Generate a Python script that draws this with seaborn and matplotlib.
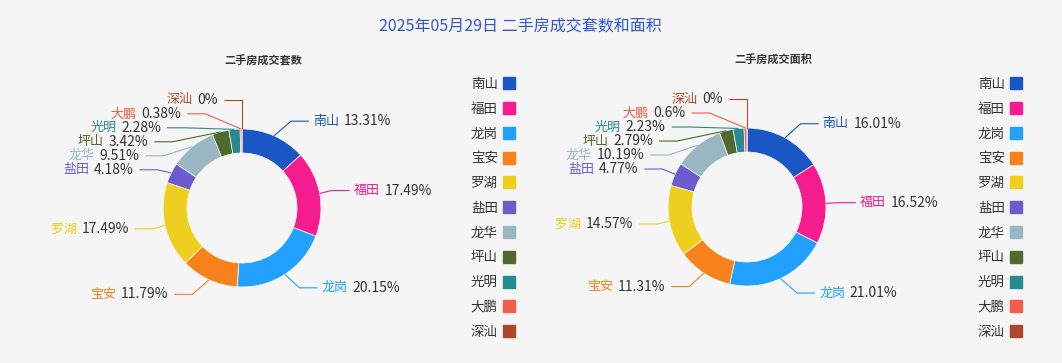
import matplotlib
matplotlib.use('Agg')
import matplotlib.pyplot as plt
from matplotlib.lines import Line2D
import numpy as np
import seaborn as sns

# figure size in pixels
W, H = 1062, 363
BG = '#f5f5f5'

# data
districts = ['南山', '福田', '龙岗', '宝安', '罗湖', '盐田', '龙华', '坪山', '光明', '大鹏', '深汕']
count_share = [13.31, 17.49, 20.15, 11.79, 17.49, 4.18, 9.51, 3.42, 2.28, 0.38, 0]
area_share = [16.01, 16.52, 21.01, 11.31, 14.57, 4.77, 10.19, 2.79, 2.23, 0.6, 0]
district_colors = ['#1a56c4', '#f41c8e', '#22a0fd', '#f7821b', '#eece1f', '#6c5bcc',
                   '#98b7c2', '#4f6a2d', '#278a8f', '#f45c4b', '#b04629']
title = '2025年05月29日 二手房成交套数和面积'
subtitles = ['二手房成交套数', '二手房成交面积']

sns.set_theme(style='white', rc={'figure.facecolor': BG, 'axes.facecolor': BG})
plt.rcParams['font.family'] = ['Noto Sans CJK SC', 'DejaVu Sans']
palette = sns.color_palette(district_colors)

fig = plt.figure(figsize=(W / 100, H / 100), dpi=100)
ax = fig.add_axes([0, 0, 1, 1])


def spread(ys, gap=14, balance=0.6):
    # push overlapping labels down, then pull each pushed group back up a bit
    ys = np.asarray(ys, float)
    out = ys.copy()
    groups = []
    prev = None
    for i in np.argsort(ys, kind='stable'):
        if prev is not None and out[i] < out[prev] + gap:
            out[i] = out[prev] + gap
            groups[-1].append(i)
        else:
            groups.append([i])
        prev = i
    for g in groups:
        if len(g) > 1:
            shift = np.mean(out[g] - ys[g])
            out[g] -= balance * shift
    return out


def draw_donut(values, cx, cy, r_out=79, ring=24, ry=95, ea=91, eb=103, len2=18):
    ax.pie(values, colors=palette, startangle=90, counterclock=False,
           radius=r_out, center=(cx, H - cy),
           wedgeprops=dict(width=ring, edgecolor='white', linewidth=0.5))

    vals = np.asarray(values, float)
    mid = (np.cumsum(vals) - vals / 2) / vals.sum()
    theta = 2 * np.pi * mid
    right = mid < 0.5
    ys = cy - ry * np.cos(theta)
    for side in (right, ~right):
        idx = np.where(side)[0]
        ys[idx] = spread(ys[idx])

    for i, name in enumerate(districts):
        c = palette[i]
        ax_ = cx + r_out * np.sin(theta[i])
        ay_ = cy - r_out * np.cos(theta[i])
        y = ys[i]
        # elbow sits on an ellipse round the donut
        dx = ea * np.sqrt(max(1 - ((y - cy) / eb) ** 2, 0))
        sgn = 1 if right[i] else -1
        ex = cx + sgn * dx
        end = ex + sgn * len2
        ax.plot([ax_, ex, end], [H - ay_, H - y, H - y], color=c, lw=0.8,
                solid_capstyle='butt')
        pct = f'{values[i]:g}%'
        if right[i]:
            t = ax.text(end + 4, H - y, name, color=c, fontsize=9.4,
                        ha='left', va='center')
            ax.annotate(pct, xy=(1, 0.5), xycoords=t, xytext=(3.5, 0),
                        textcoords='offset points', color='#333333',
                        fontsize=10, ha='left', va='center')
        else:
            t = ax.text(end - 6, H - y, pct, color='#333333', fontsize=10,
                        ha='right', va='center')
            ax.annotate(name, xy=(0, 0.5), xycoords=t, xytext=(-3.5, 0),
                        textcoords='offset points', color=c,
                        fontsize=9.4, ha='right', va='center')


draw_donut(count_share, 242, 208)
draw_donut(area_share, 747, 207)

ax.set_xlim(0, W)
ax.set_ylim(0, H)
ax.set_axis_off()

ax.text(520, H - 27, title, ha='center', va='center', color='#2f55d4', fontsize=11.5)
ax.text(263, H - 61, subtitles[0], ha='center', va='center', color='#333333',
        fontsize=8, fontweight='bold')
ax.text(773, H - 60, subtitles[1], ha='center', va='center', color='#333333',
        fontsize=8, fontweight='bold')

handles = [Line2D([], [], marker='s', linestyle='', markersize=8, color=c) for c in palette]
for right_px in (516, 1023):
    fig.legend(handles, districts, loc='upper right',
               bbox_to_anchor=(right_px / W, 1 - 77 / H), frameon=False,
               markerfirst=False, fontsize=9.7, labelcolor='#333333',
               labelspacing=0.8, handlelength=1.1, handletextpad=0.25,
               borderpad=0, borderaxespad=0)

fig.savefig('out.png', dpi=100, facecolor=BG)
